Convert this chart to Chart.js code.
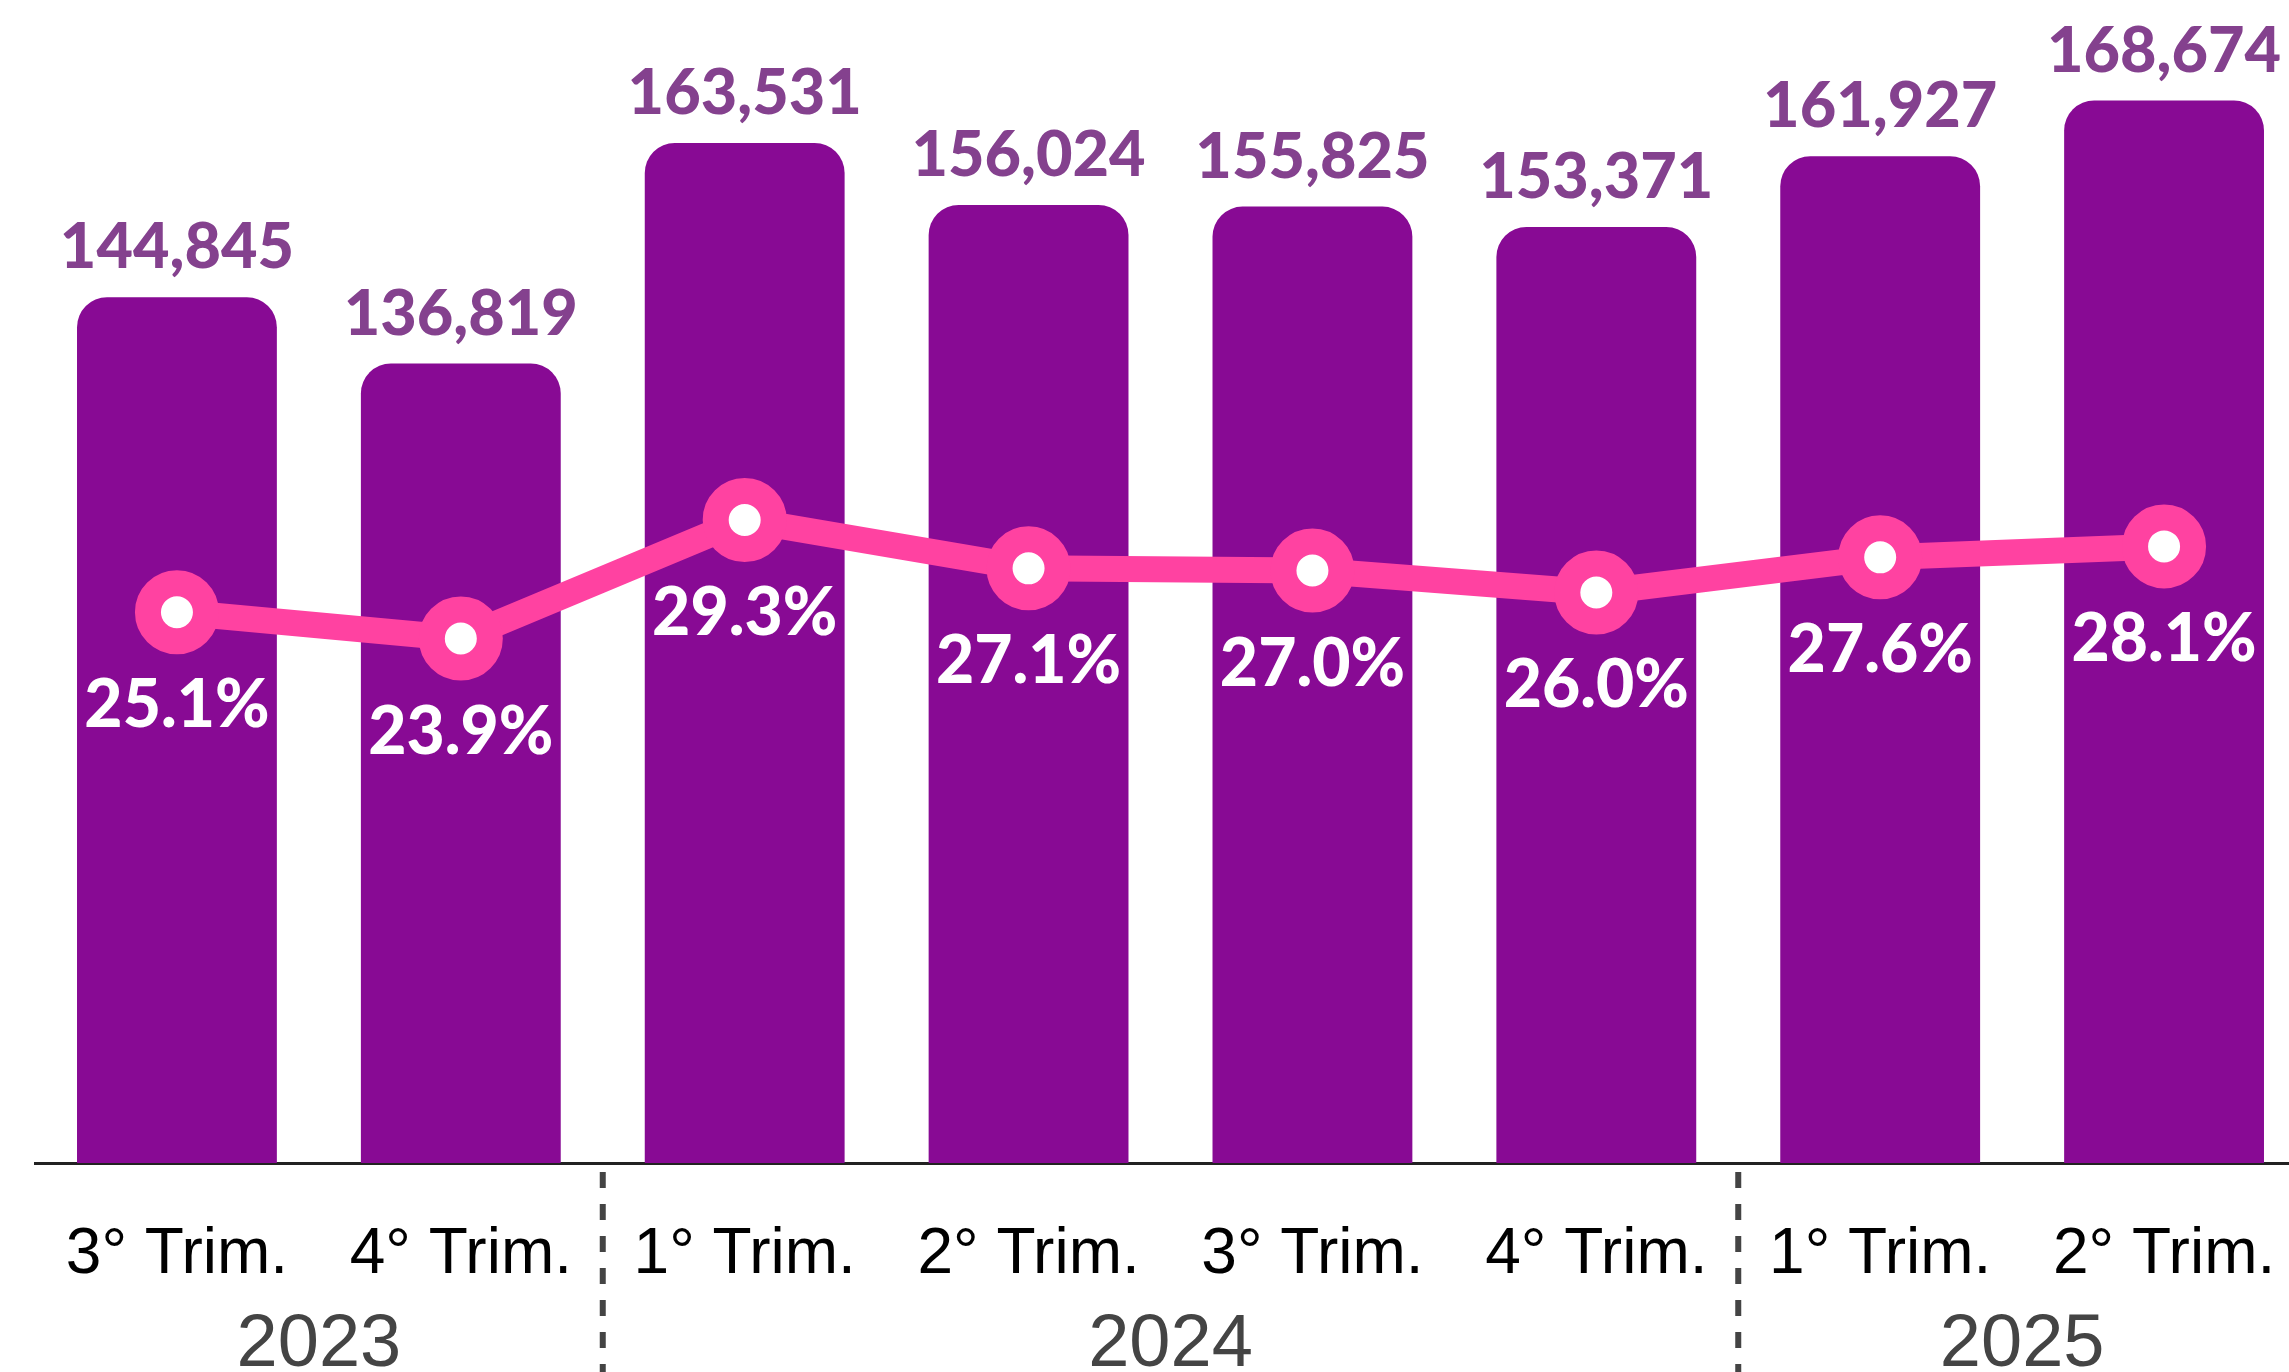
<!DOCTYPE html>
<html>
<head>
<meta charset="utf-8">
<title>Receita trimestral</title>
<script src="https://cdn.jsdelivr.net/npm/chart.js@4"></script>
<style>
  html, body { margin: 0; padding: 0; background: #fff; overflow: hidden; }
  #wrap { width: 2310px; height: 1372px; }
</style>
</head>
<body>
<div id="wrap"><canvas id="chart" width="2310" height="1372"></canvas></div>
<script>
// ---- data ----
const categories = ['3° Trim.', '4° Trim.', '1° Trim.', '2° Trim.', '3° Trim.', '4° Trim.', '1° Trim.', '2° Trim.'];
const revenue = [144845, 136819, 163531, 156024, 155825, 153371, 161927, 168674];
const margin = [25.1, 23.9, 29.3, 27.1, 27.0, 26.0, 27.6, 28.1];
const years = ['2023', '2024', '2025'];
const yearFirst = [0, 2, 6];
const yearLast = [1, 5, 7];

const BAR = '#880A94';
const BAR_LABEL = '#84418E';
const PINK = '#FF42A1';

// labels + year grouping drawn by hand
const labelPlugin = {
  id: 'labels',
  afterDatasetsDraw(chart) {
    const ctx = chart.ctx;
    const bars = chart.getDatasetMeta(1).data;
    const pts = chart.getDatasetMeta(0).data;
    ctx.save();
    ctx.textAlign = 'center';
    ctx.textBaseline = 'alphabetic';

    ctx.fillStyle = BAR_LABEL;
    ctx.font = '900 63px Lato, "Open Sans", sans-serif';
    bars.forEach(function (b, i) {
      ctx.fillText(revenue[i].toLocaleString('en-US'), b.x, b.y - 29);
    });

    ctx.fillStyle = '#fff';
    ctx.font = '900 66px Lato, "Open Sans", sans-serif';
    pts.forEach(function (p, i) {
      ctx.fillText(margin[i].toFixed(1) + '%', p.x, p.y + 115);
    });
    ctx.restore();
  },
  afterDraw(chart) {
    const ctx = chart.ctx;
    const x = chart.scales.x;
    ctx.save();
    ctx.textAlign = 'center';
    ctx.textBaseline = 'alphabetic';

    ctx.fillStyle = '#000';
    ctx.font = '64px "Liberation Sans", Arial, sans-serif';
    categories.forEach(function (c, i) {
      ctx.fillText(c, x.getPixelForValue(i), 1273);
    });

    ctx.fillStyle = '#444';
    ctx.font = '74px "Liberation Sans", Arial, sans-serif';
    years.forEach(function (y, i) {
      const cx = (x.getPixelForValue(yearFirst[i]) + x.getPixelForValue(yearLast[i])) / 2;
      ctx.fillText(y, cx, 1366);
    });

    // dashed separators between years
    ctx.strokeStyle = '#444';
    ctx.lineWidth = 6;
    ctx.setLineDash([16, 16]);
    for (let i = 1; i < years.length; i++) {
      const sx = (x.getPixelForValue(yearLast[i - 1]) + x.getPixelForValue(yearFirst[i])) / 2;
      ctx.beginPath();
      ctx.moveTo(sx, 1172);
      ctx.lineTo(sx, 1372);
      ctx.stroke();
    }
    ctx.restore();
  }
};

new Chart(document.getElementById('chart'), {
  data: {
    labels: categories,
    datasets: [{
      type: 'line',
      data: margin,
      yAxisID: 'y2',
      order: 0,
      borderColor: PINK,
      borderWidth: 26,
      tension: 0,
      pointRadius: 29,
      pointBorderWidth: 26,
      pointBackgroundColor: '#fff',
      pointBorderColor: PINK,
      clip: false
    }, {
      type: 'bar',
      data: revenue,
      yAxisID: 'y',
      order: 1,
      backgroundColor: BAR,
      borderRadius: { topLeft: 30, topRight: 30, bottomLeft: 0, bottomRight: 0 },
      borderSkipped: 'bottom',
      barPercentage: 0.704,
      categoryPercentage: 1
    }]
  },
  options: {
    responsive: false,
    devicePixelRatio: 1,
    animation: false,
    layout: { autoPadding: false, padding: { left: 35, right: 4, top: 0, bottom: 201 } },
    plugins: { legend: { display: false }, tooltip: { enabled: false } },
    scales: {
      x: {
        grid: { display: false },
        ticks: { display: false },
        border: { display: true, color: '#222', width: 3 }
      },
      y: { display: false, min: 40000, max: 180848 },
      y2: { display: false, min: 0, max: 53 }
    }
  },
  plugins: [labelPlugin]
});
</script>
</body>
</html>
